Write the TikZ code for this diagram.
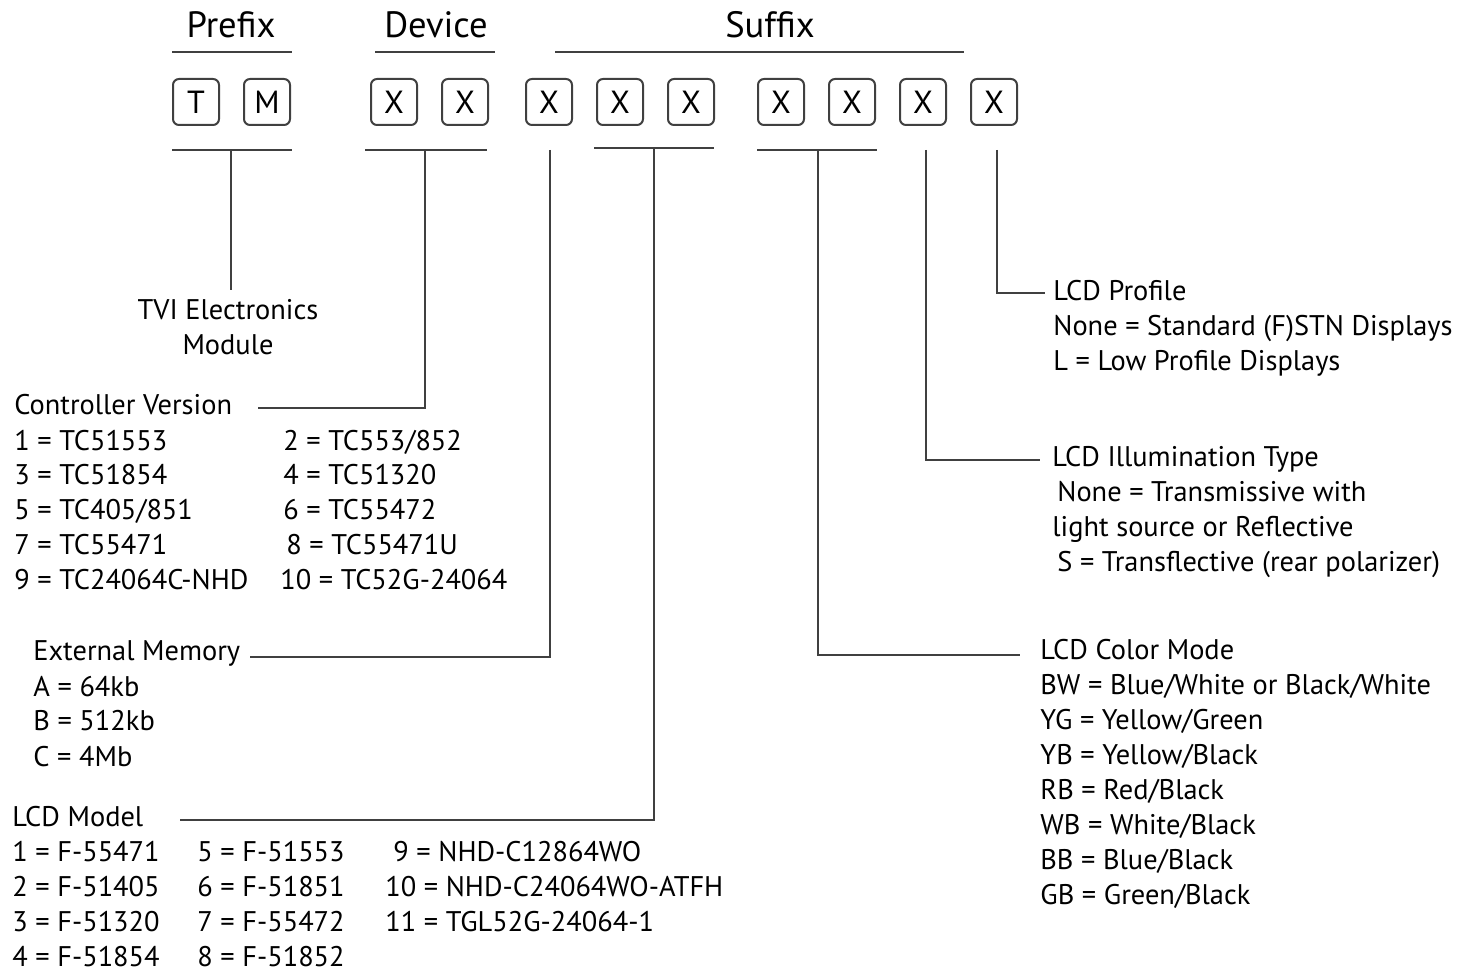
\documentclass[tikz,border=0pt]{standalone}
\usepackage{fontspec}
\setmainfont{PT Sans}
\usetikzlibrary{positioning}

\begin{document}
\begin{tikzpicture}[x=0.5pt,y=-0.5pt,node distance = 0mm and 11.5pt,
    digit/.style={rectangle,rounded corners=3pt,minimum size=23pt,inner sep=0pt,line width=1pt,draw=black!75,font=\fontsize{16}{19}\selectfont},
    head/.style={anchor=base,inner sep=0pt,font=\fontsize{18.3}{22}\selectfont},
    txt/.style={anchor=base west,align=left,inner sep=0pt,font=\fontsize{14.2}{17.5}\selectfont},
    wire/.style={line width=1pt,draw=black!75},
   ]
    \useasboundingbox (0,0) rectangle (1457,972);

    \node (t)  [digit] at (196,102) {T};
    \node (m)  [digit,right=of t] {M};
    \node (d1) [digit,right=of m,xshift=28pt] {X};
    \node (d2) [digit,right=of d1] {X};
    \node (s1) [digit,right=of d2,xshift=6.5pt] {X};
    \node (s2) [digit,right=of s1] {X};
    \node (s3) [digit,right=of s2] {X};
    \node (s4) [digit,right=of s3,xshift=9.5pt] {X};
    \node (s5) [digit,right=of s4] {X};
    \node (s6) [digit,right=of s5] {X};
    \node (s7) [digit,right=of s6] {X};

    \node (prefix) [head] at (231,38) {Prefix};
    \node (device) [head] at (436,38) {Device};
    \node (suffix) [head] at (770,38) {Suffix};
    \draw[wire] (172,52) -- (292,52);
    \draw[wire] (375,52) -- (495,52);
    \draw[wire] (555,52) -- (964,52);

    \node (tvi) [txt,anchor=base,align=center,inner ysep=4.5pt] at (228,355) {TVI Electronics\\Module};
    \node (ctrl) [txt] at (14,590) {Controller Version\\1 = TC51553\\3 = TC51854\\5 = TC405/851\\7 = TC55471\\9 = TC24064C-NHD};
    \node (ctrlb) [txt] at (283,590) {2 = TC553/852\\4 = TC51320\\6 = TC55472\\\hspace*{1.5pt}8 = TC55471U\\\hspace*{-1.5pt}10 = TC52G-24064};
    \node (mem) [txt] at (33,766) {External Memory\\A = 64kb\\B = 512kb\\C = 4Mb};
    \node (lcd) [txt] at (12,966) {LCD Model\\1 = F-55471\\2 = F-51405\\3 = F-51320\\4 = F-51854};
    \node (lcdb) [txt] at (197,966) {5 = F-51553\\6 = F-51851\\7 = F-55472\\8 = F-51852};
    \node (lcdc) [txt] at (385,931) {\hspace*{4pt}9 = NHD-C12864WO\\10 = NHD-C24064WO-ATFH\\11 = TGL52G-24064-1};
    \node (prof) [txt] at (1053,371) {LCD Profile\\None = Standard (F)STN Displays\\L = Low Profile Displays};
    \node (illum) [txt] at (1052,572) {LCD Illumination Type\\\hspace*{2.5pt}None = Transmissive with\\light source or Reflective\\\hspace*{2.5pt}S = Transflective (rear polarizer)};
    \node (color) [txt] at (1040,904) {LCD Color Mode\\BW = Blue/White or Black/White\\YG = Yellow/Green\\YB = Yellow/Black\\RB = Red/Black\\WB = White/Black\\BB = Blue/Black\\GB = Green/Black};

    \coordinate (pfxbr) at (231,150);
    \coordinate (devbr) at (425,150);
    \coordinate (membr) at (550,150);
    \coordinate (lcdbr) at (654,148);
    \coordinate (colbr) at (818,150);
    \coordinate (illbr) at (926,150);
    \coordinate (probr) at (997,150);
    \coordinate (ctrlend) at (258,408);
    \coordinate (memend) at (250,657);
    \coordinate (lcdend) at (180,820);
    \coordinate (colend) at (1020,655);
    \coordinate (illend) at (1040,460);
    \coordinate (proend) at (1045,293);

    \draw[wire] (172,150) -- (292,150);
    \draw[wire] (365,150) -- (487,150);
    \draw[wire] (594,148) -- (714,148);
    \draw[wire] (757,150) -- (877,150);

    \draw[wire] (pfxbr) -- (pfxbr |- tvi.north);
    \draw[wire] (devbr) |- (ctrlend);
    \draw[wire] (membr) |- (memend);
    \draw[wire] (lcdbr) |- (lcdend);
    \draw[wire] (colbr) |- (colend);
    \draw[wire] (illbr) |- (illend);
    \draw[wire] (probr) |- (proend);
   \end{tikzpicture}
\end{document}
